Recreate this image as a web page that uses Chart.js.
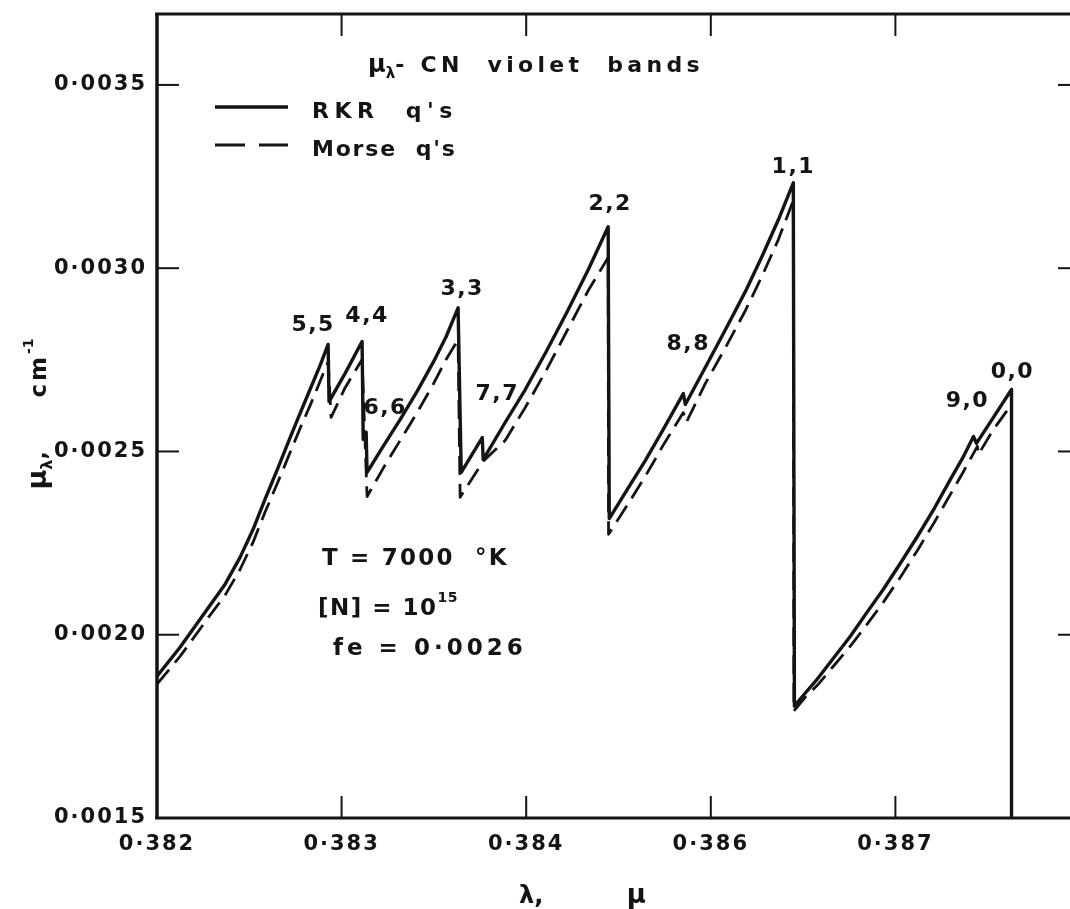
<!DOCTYPE html>
<html><head><meta charset="utf-8">
<script src="https://cdn.jsdelivr.net/npm/chart.js@4.4.1/dist/chart.umd.min.js"></script>
<style>
html,body{margin:0;padding:0;background:#fff;overflow:hidden}
body{width:1070px;height:909px}
canvas{display:block}
</style></head><body>
<canvas id="c" width="1090" height="909" style="width:1090px;height:909px"></canvas>
<script>
// ---- data (x in axis units of the printed wavelength scale, y = mu_lambda in cm^-1) ----
const rkrLambda = [
  0.382000,0.382125,0.382271,0.382369,0.382450,0.382520,0.382585,0.382656,0.382721,0.382775,0.382829,0.382883,0.382927,
  0.382932,0.383019,0.383111,
  0.383117,0.383133,0.383138,0.383225,0.383317,0.383409,0.383496,0.383566,0.383631,
  0.383648,0.383762,0.383767,0.383886,0.383995,0.384108,0.384222,0.384336,0.384444,
  0.384450,0.384547,0.384645,0.384748,0.384851,
  0.384862,0.384970,0.385079,0.385187,0.385279,0.385366,0.385447,
  0.385453,0.385512,0.385577,0.385664,0.385756,0.385843,0.385935,0.386027,0.386119,0.386211,0.386298,0.386363,0.386423,
  0.386439,0.386531,0.386629,0.386629];
const rkrMu = [
  0.001887,0.001966,0.002069,0.002138,0.002211,0.002287,0.002369,0.002456,0.002538,0.002604,0.002669,0.002734,0.002792,
  0.002636,0.002713,0.002800,
  0.002533,0.002552,0.002443,0.002514,0.002587,0.002664,0.002743,0.002813,0.002892,
  0.002443,0.002538,0.002478,0.002579,0.002669,0.002772,0.002881,0.002996,0.003113,
  0.002317,0.002396,0.002475,0.002565,0.002658,
  0.002628,0.002729,0.002832,0.002936,0.003034,0.003132,0.003233,
  0.001805,0.001841,0.001879,0.001936,0.001996,0.002059,0.002124,0.002195,0.002268,0.002345,0.002424,0.002481,0.002541,
  0.002522,0.002593,0.002669,0.001500];
const morseLambda = [
  0.382000,0.382125,0.382271,0.382369,0.382450,0.382520,0.382585,0.382656,0.382721,0.382775,0.382829,0.382883,0.382927,
  0.382943,0.383019,0.383111,
  0.383138,0.383225,0.383317,0.383409,0.383496,0.383566,0.383631,
  0.383642,0.383767,0.383886,0.383995,0.384108,0.384222,0.384336,0.384444,
  0.384446,0.384547,0.384645,0.384748,0.384851,
  0.384867,0.384970,0.385079,0.385187,0.385279,0.385366,0.385447,
  0.385450,0.385512,0.385577,0.385664,0.385756,0.385843,0.385935,0.386027,0.386119,0.386211,0.386298,0.386363,0.386444,
  0.386450,0.386531,0.386629,0.386629];
const morseMu = [
  0.001865,0.001941,0.002042,0.002108,0.002178,0.002252,0.002334,0.002418,0.002497,0.002563,0.002625,0.002691,0.002745,
  0.002593,0.002674,0.002751,
  0.002377,0.002454,0.002530,0.002606,0.002683,0.002751,0.002805,
  0.002375,0.002473,0.002530,0.002620,0.002721,0.002830,0.002939,0.003029,
  0.002274,0.002353,0.002432,0.002522,0.002606,
  0.002579,0.002685,0.002783,0.002884,0.002980,0.003078,0.003185,
  0.001792,0.001830,0.001862,0.001914,0.001969,0.002026,0.002089,0.002157,0.002230,0.002307,0.002383,0.002440,0.002514,
  0.002492,0.002560,0.002628,0.001500];
const xTickLabels = ['0·382','0·383','0·384','0·386','0·387'];
const yTickValues = [0.0015,0.0020,0.0025,0.0030,0.0035];
const bandNames  = ['5,5','4,4','6,6','3,3','7,7','2,2','8,8','1,1','9,0','0,0'];
const bandLambda = [0.382846,0.383138,0.383236,0.383653,0.383843,0.384455,0.384878,0.385447,0.386390,0.386634];
const bandMu     = [0.002850,0.002875,0.002623,0.002950,0.002663,0.003181,0.002800,0.003282,0.002642,0.002723];
const seriesNames = ["RKR  q's", "Morse  q's"];

const FONT = 'DejaVu Sans';
const INK = '#141414';

function rich(ctx, parts, x, y, align){
  const w = parts.map(p => { ctx.font = `bold ${p[1]}px "${FONT}"`; ctx.letterSpacing = (p[3]||0)+'px'; return ctx.measureText(p[0]).width; });
  const total = w.reduce((a,b)=>a+b,0);
  let cx = align === 'center' ? x - total/2 : x;
  ctx.textAlign = 'left'; ctx.textBaseline = 'alphabetic';
  parts.forEach((p,i) => { ctx.font = `bold ${p[1]}px "${FONT}"`; ctx.letterSpacing = (p[3]||0)+'px'; ctx.fillText(p[0], cx, y + (p[2]||0)); cx += w[i]; });
}

const decor = {
  id: 'decor',
  beforeDraw(chart){ chart.ctx.letterSpacing = '2px'; },
  afterDraw(chart){
    const {ctx, chartArea:a, scales:{x, y}} = chart;
    ctx.save();
    ctx.strokeStyle = INK; ctx.fillStyle = INK; ctx.lineCap = 'butt';
    // frame
    ctx.lineWidth = 3.5;
    ctx.beginPath(); ctx.moveTo(a.left, a.top); ctx.lineTo(a.left, a.bottom); ctx.stroke();
    ctx.lineWidth = 3;
    ctx.beginPath(); ctx.moveTo(a.left-2, a.bottom); ctx.lineTo(a.right, a.bottom); ctx.stroke();
    ctx.beginPath(); ctx.moveTo(a.left-2, a.top); ctx.lineTo(a.right, a.top); ctx.lineTo(a.right, a.bottom); ctx.stroke();
    // inward ticks
    ctx.lineWidth = 2;
    const TL = 22;
    xTickLabels.forEach((lab, i) => {
      if (i === 0) return;
      const px = x.getPixelForValue(0.382 + i*0.001);
      ctx.beginPath(); ctx.moveTo(px, a.bottom); ctx.lineTo(px, a.bottom - TL); ctx.stroke();
      ctx.beginPath(); ctx.moveTo(px, a.top); ctx.lineTo(px, a.top + TL); ctx.stroke();
    });
    yTickValues.forEach((v, i) => {
      if (i === 0) return;
      const py = y.getPixelForValue(v);
      ctx.beginPath(); ctx.moveTo(a.left, py); ctx.lineTo(a.left + TL, py); ctx.stroke();
      ctx.beginPath(); ctx.moveTo(a.right, py); ctx.lineTo(a.right - TL, py); ctx.stroke();
    });
    // band labels
    bandNames.forEach((n, i) => {
      rich(ctx, [[n, 22, 0, 1.5]], x.getPixelForValue(bandLambda[i]), y.getPixelForValue(bandMu[i]) + 8, 'center');
    });
    // title
    rich(ctx, [['μ', 24, 0, 0], ['λ', 15, 6, 0], ['- CN  violet  bands', 22, 0, 4.3]], 368, 72, 'left');
    // legend
    ctx.lineWidth = 3.5;
    ctx.beginPath(); ctx.moveTo(215, 107); ctx.lineTo(288, 107); ctx.stroke();
    ctx.lineWidth = 2.8; ctx.setLineDash([30, 14]);
    ctx.beginPath(); ctx.moveTo(215, 145); ctx.lineTo(288, 145); ctx.stroke();
    ctx.setLineDash([]);
    rich(ctx, [[seriesNames[0], 22, 0, 5.5]], 312, 118, 'left');
    rich(ctx, [[seriesNames[1], 22, 0, 1.8]], 312, 156, 'left');
    // conditions
    rich(ctx, [['T = 7000  °K', 23, 0, 2.2]], 322, 565, 'left');
    rich(ctx, [['[N] = 10', 23, 0, 1.5], ['15', 14, -13, 0.5]], 318, 615, 'left');
    rich(ctx, [['fe = 0·0026', 23, 0, 4]], 333, 655, 'left');
    // axis titles
    rich(ctx, [['λ,', 24, 0, 0], ['          ', 24, 0, 0], ['μ', 26, 0, 0]], 519, 903, 'left');
    ctx.translate(38, (a.top + a.bottom)/2 - 2);
    ctx.rotate(-Math.PI/2);
    rich(ctx, [['μ', 27, 0, 0], ['λ', 16, 6, 0], [',', 22, 0, 0], ['       ', 22, 0, 0], ['cm', 23, 0, 3], ['-1', 14, -13, 0]], 0, 8, 'center');
    ctx.restore();
  }
};

const chart = new Chart(document.getElementById('c'), {
  type: 'line',
  data: {
    datasets: [
      { label: seriesNames[0], data: rkrLambda.map((v,i)=>({x:v, y:rkrMu[i]})), borderColor: INK, borderWidth: 3.4, pointRadius: 0, tension: 0, fill: false, borderJoinStyle: 'round', borderCapStyle: 'butt' },
      { label: seriesNames[1], data: morseLambda.map((v,i)=>({x:v, y:morseMu[i]})), borderColor: INK, borderWidth: 2.8, borderDash: [19, 9], pointRadius: 0, tension: 0, fill: false, borderJoinStyle: 'round' }
    ]
  },
  options: {
    responsive: false, animation: false, events: [],
    layout: { padding: { top: 14, right: 10, left: 0, bottom: 0 } },
    plugins: { legend: { display: false }, tooltip: { enabled: false } },
    scales: {
      x: {
        type: 'linear', min: 0.382, max: 0.387,
        grid: { display: false, drawTicks: false }, border: { display: false },
        ticks: { stepSize: 0.001, autoSkip: false, maxRotation: 0, padding: 14, color: INK,
          font: { family: FONT, size: 21, weight: 'bold' },
          callback: (v) => { const i = Math.round((v - 0.382) / 0.001); return Math.abs(v - (0.382 + i*0.001)) < 1e-7 ? (xTickLabels[i] ?? '') : ''; } },
        afterFit: (s) => { s.height = 91; s.paddingLeft = 0; s.paddingRight = 0; }
      },
      y: {
        type: 'linear', min: 0.0015, max: 0.0036935,
        grid: { display: false, drawTicks: false }, border: { display: false },
        ticks: { stepSize: 0.0005, autoSkip: false, padding: 10, color: INK,
          font: { family: FONT, size: 21, weight: 'bold' },
          callback: (v) => yTickValues.some(t => Math.abs(t - v) < 1e-9) ? v.toFixed(4).replace('.', '·') : '' },
        afterFit: (s) => { s.width = 157; s.paddingTop = 0; s.paddingBottom = 0; }
      }
    }
  },
  plugins: [decor]
});
</script>
</body></html>
